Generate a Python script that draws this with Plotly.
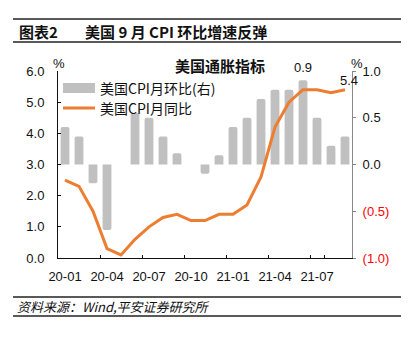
import plotly.graph_objects as go

# Monthly categories, Jan 2020 - Sep 2021
months = ["20-01", "20-02", "20-03", "20-04", "20-05", "20-06", "20-07",
          "20-08", "20-09", "20-10", "20-11", "20-12", "21-01", "21-02",
          "21-03", "21-04", "21-05", "21-06", "21-07", "21-08", "21-09"]

# US CPI month-on-month change, % (right axis)
cpi_mom = [0.4, 0.3, -0.2, -0.7, 0.0, 0.55, 0.5, 0.3, 0.12, 0.0, -0.1,
           0.1, 0.4, 0.5, 0.7, 0.8, 0.8, 0.9, 0.5, 0.2, 0.3]

# US CPI year-on-year change, % (left axis)
cpi_yoy = [2.5, 2.3, 1.5, 0.3, 0.1, 0.6, 1.0, 1.3, 1.4, 1.2, 1.2,
           1.4, 1.4, 1.7, 2.6, 4.2, 5.0, 5.4, 5.4, 5.3, 5.4]

tick_months = months[::3]
right_vals = [1.0, 0.5, 0.0, -0.5, -1.0]
right_text = ["1.0", "0.5", "0.0",
              '<span style="color:#FF0000">(0.5)</span>',
              '<span style="color:#FF0000">(1.0)</span>']

BAR = "#C0C0C0"
LINE = "#ED7D31"
CJK = "Noto Sans CJK SC"
LAT = "Liberation Sans, Arial, sans-serif"

# plot area in pixels: x 58..352, y 71..258
L, R, T, B = 58, 352, 71, 258
W, H = R - L, B - T


def px(x):
    return (x - L) / W


def py(y):
    return (B - y) / H


fig = go.Figure()

fig.add_trace(go.Bar(
    x=months, y=cpi_mom, yaxis="y", name="美国CPI月环比(右)",
    marker=dict(color=BAR, line=dict(width=0), cornerradius=2),
    width=0.63, showlegend=False,
))

fig.add_trace(go.Scatter(
    x=months, y=cpi_yoy, yaxis="y2", mode="lines", name="美国CPI月同比",
    line=dict(color=LINE, width=3), showlegend=False,
))

shapes = []
# header and footer rules
for yy, w in [(19, 1.5), (42, 1.5), (297, 1.5), (316, 1.5)]:
    shapes.append(dict(type="line", xref="paper", yref="paper",
                       x0=px(13), x1=px(401), y0=py(yy), y1=py(yy),
                       line=dict(color="#222222", width=w)))
# legend swatches
shapes.append(dict(type="rect", xref="paper", yref="paper",
                   x0=px(63), x1=px(95), y0=py(93), y1=py(83),
                   fillcolor=BAR, line=dict(width=0)))
shapes.append(dict(type="line", xref="paper", yref="paper",
                   x0=px(63), x1=px(95), y0=py(108), y1=py(108),
                   line=dict(color=LINE, width=3)))

annotations = [
    dict(text="<b>图表2</b>", x=px(17), y=py(31), xanchor="left",
         font=dict(family=CJK, size=15, color="#111111")),
    dict(text="美国 9 月 CPI 环比增速反弹", x=px(83), y=py(31),
         xanchor="left", font=dict(family=CJK, size=15, color="#111111",
                                   weight=600)),
    dict(text="<i>资料来源：Wind,平安证券研究所</i>", x=px(15), y=py(306),
         xanchor="left", font=dict(family=CJK, size=13, color="#111111")),
    dict(text="<b>美国通胀指标</b>", x=px(220), y=py(66),
         font=dict(family=CJK, size=15, color="#111111")),
    dict(text="%", x=px(59), y=py(63),
         font=dict(family=LAT, size=13, color="#111111")),
    dict(text="%", x=px(357), y=py(63),
         font=dict(family=LAT, size=13, color="#111111")),
    dict(text="美国CPI月环比(右)", x=px(98), y=py(88), xanchor="left",
         font=dict(family=CJK, size=14, color="#111111")),
    dict(text="美国CPI月同比", x=px(98), y=py(108), xanchor="left",
         font=dict(family=CJK, size=14, color="#111111")),
    # value labels
    dict(text=f"{cpi_mom[17]:.1f}", x=months[17], y=cpi_mom[17], xref="x",
         yref="y", yshift=13, font=dict(family=LAT, size=13, color="#111111")),
    dict(text=f"{cpi_yoy[20]:.1f}", x=months[20], y=cpi_yoy[20], xref="x",
         yref="y2", yshift=9, xshift=4,
         font=dict(family=LAT, size=13, color="#111111")),
]
for a in annotations:
    a.setdefault("xref", "paper")
    a.setdefault("yref", "paper")
    a.setdefault("yanchor", "middle")
    a.setdefault("xanchor", "center")
    a["showarrow"] = False

fig.update_layout(
    width=409, height=343,
    margin=dict(l=L, r=409 - R, t=T, b=343 - B, pad=0),
    paper_bgcolor="white", plot_bgcolor="white",
    bargap=0.3,
    xaxis=dict(
        type="category", categoryorder="array", categoryarray=months,
        range=[-0.5, len(months) - 0.5],
        tickmode="array", tickvals=tick_months, ticktext=tick_months,
        tickson="boundaries", ticks="inside", ticklen=3, tickangle=0,
        tickcolor="#111111", showline=True, linecolor="#111111",
        linewidth=1, showgrid=False, zeroline=False,
        tickfont=dict(family=LAT, size=13, color="#111111"),
        ticklabelstandoff=6,
    ),
    yaxis=dict(
        side="right", range=[-1, 1], tickmode="array",
        tickvals=right_vals, ticktext=right_text,
        ticks="outside", ticklen=3, tickcolor="#888888",
        showline=True, linecolor="#888888", linewidth=1,
        showgrid=False, zeroline=False,
        tickfont=dict(family=LAT, size=13, color="#111111"),
        ticklabelstandoff=4,
    ),
    yaxis2=dict(
        side="left", overlaying="y", range=[0, 6], tickmode="array",
        tickvals=[0, 1, 2, 3, 4, 5, 6],
        ticktext=["0.0", "1.0", "2.0", "3.0", "4.0", "5.0", "6.0"],
        ticks="inside", ticklen=3, tickcolor="#111111",
        showline=True, linecolor="#111111", linewidth=1,
        showgrid=False, zeroline=False,
        tickfont=dict(family=LAT, size=13, color="#111111"),
        ticklabelstandoff=10,
    ),
    shapes=shapes,
    annotations=annotations,
)

fig.write_html("out.html")
